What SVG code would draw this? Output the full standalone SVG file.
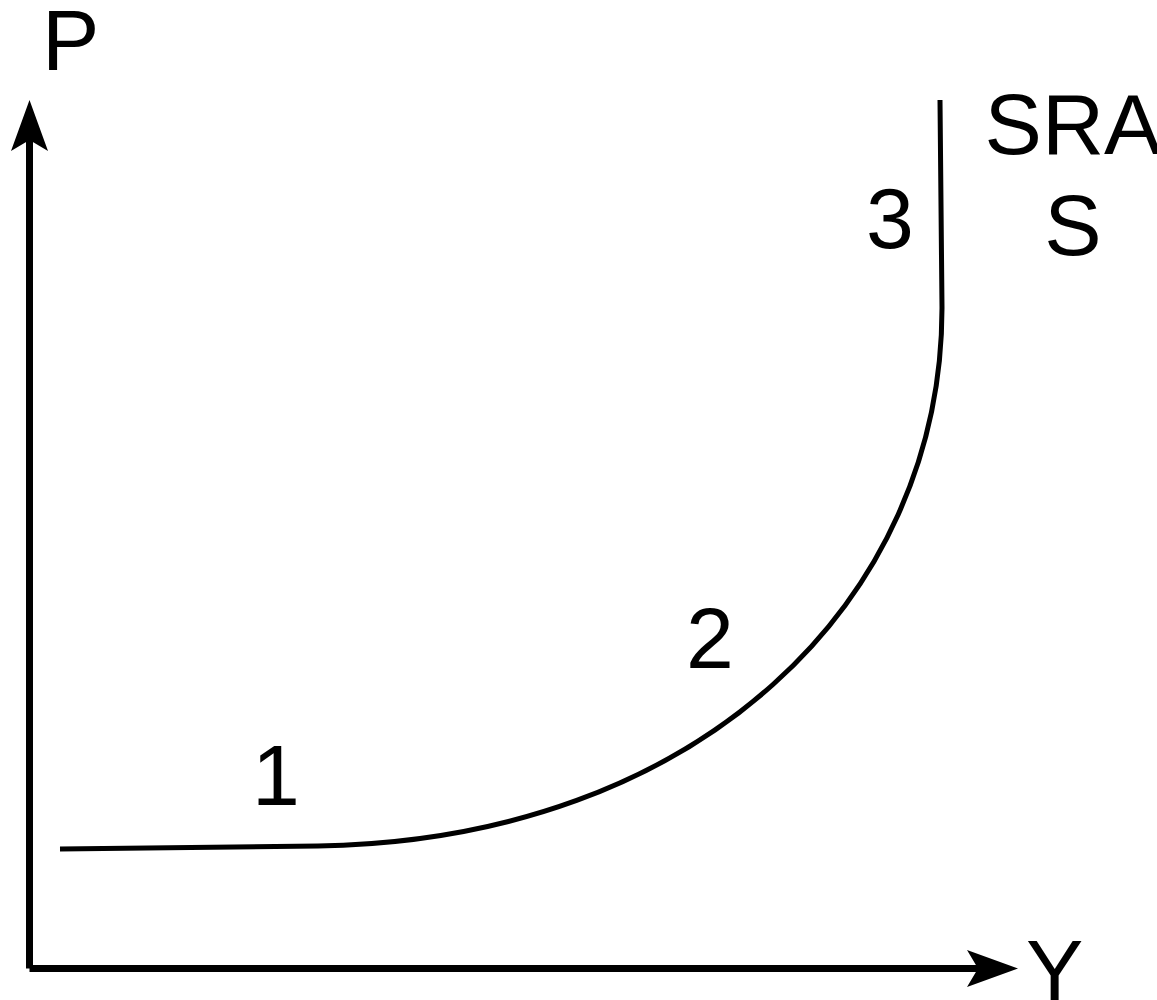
<svg xmlns="http://www.w3.org/2000/svg" width="1157" height="1000" viewBox="0 0 1157 1000">
<style>
.t{font-family:"Liberation Sans",Arial,sans-serif;font-size:86px;fill:#000}
.ln{fill:none;stroke:#000;stroke-width:5}
.ax{fill:none;stroke:#000;stroke-width:7}
</style>
<rect width="1157" height="1000" fill="#fff"/>
<g id="axes">
<path class="ax" d="M29.5,968.5 V140"/>
<path d="M29.5,100 L48,151 L29.5,140 L11,151 Z" fill="#000"/>
<path class="ax" d="M29.5,968.5 H980"/>
<path d="M1018,968.5 L967,987 L978,968.5 L967,950 Z" fill="#000"/>
</g>
<g id="curve">
<path class="ln" d="M60,849 L318,846 C700,840 942,600 942,308 L940,100"/>
</g>
<g id="labels">
<text class="t" x="42" y="70">P</text>
<text class="t" x="1073" y="154" text-anchor="middle">SRA</text>
<text class="t" x="1073" y="255" text-anchor="middle">S</text>
<text class="t" x="866" y="248">3</text>
<text class="t" x="686" y="668">2</text>
<text class="t" x="252" y="805">1</text>
<text class="t" x="1026" y="1000">Y</text>
</g>
</svg>
